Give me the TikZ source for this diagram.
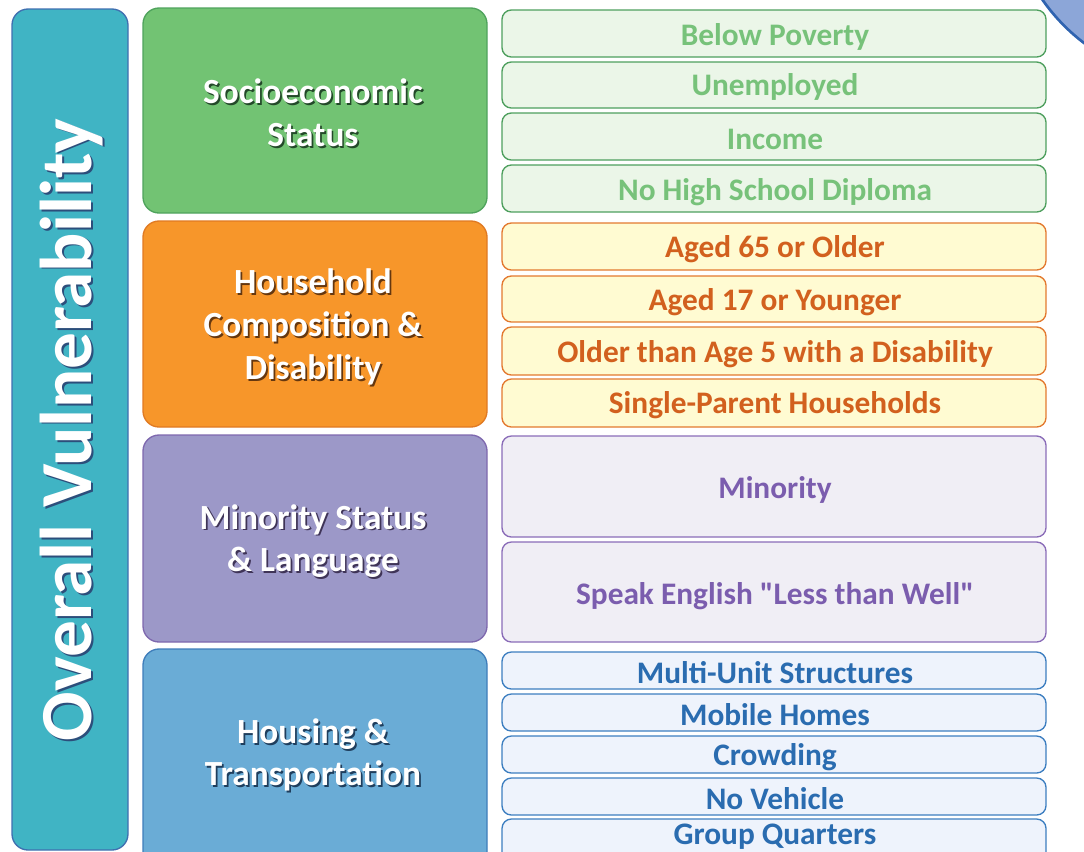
\documentclass[tikz,border=0pt]{standalone}
\usepackage{fontspec}
\setmainfont{Carlito}
\newcommand\dq{\XeTeXglyph\XeTeXcharglyph"22\relax}
\definecolor{tealF}{HTML}{40B4C4}
\definecolor{tealD}{HTML}{3F6FB0}
\definecolor{grnF}{HTML}{72C373}
\definecolor{grnD}{HTML}{4FA35C}
\definecolor{orgF}{HTML}{F7962A}
\definecolor{orgD}{HTML}{E07A22}
\definecolor{purF}{HTML}{9C98C8}
\definecolor{purD}{HTML}{7E68AE}
\definecolor{bluF}{HTML}{6AACD6}
\definecolor{bluD}{HTML}{3E7DBA}
\definecolor{gsF}{HTML}{EBF6E8}
\definecolor{gsD}{HTML}{4E9F5E}
\definecolor{gsT}{HTML}{77C27A}
\definecolor{osF}{HTML}{FFFBD2}
\definecolor{osD}{HTML}{E3792F}
\definecolor{osT}{HTML}{D2601E}
\definecolor{psF}{HTML}{F0EEF5}
\definecolor{psD}{HTML}{8A6CB8}
\definecolor{psT}{HTML}{7B5DAE}
\definecolor{bsF}{HTML}{EEF3FC}
\definecolor{bsD}{HTML}{3C7EC0}
\definecolor{bsT}{HTML}{2A6CB0}
\definecolor{circF}{HTML}{8CA6D8}
\definecolor{circD}{HTML}{2F63B0}
\newcommand\shtext[5]{%
  \node[#4, text=#3] (#1s) at ([xshift=1.3pt,yshift=-1.3pt]#2) {#5};
  \node[#4, text=white] (#1) at (#2) {#5};}
\begin{document}
\begin{tikzpicture}[x=0.75pt,y=-0.75pt,
  catbox/.style={draw, line width=1pt, rounded corners=12pt},
  subbox/.style={draw, line width=1pt, rounded corners=7pt},
  cattext/.style={font=\bfseries\fontsize{26.5}{32}\selectfont, align=center, inner sep=0pt},
  bigtext/.style={font=\bfseries\fontsize{55}{60}\selectfont, rotate=90, inner sep=0pt},
  subtext/.style={font=\bfseries\fontsize{23.5}{28}\selectfont, inner sep=0pt}]
\useasboundingbox (0,0) rectangle (1084,851);
\begin{scope}
\clip (0,0) rectangle (1084,851);
% corner circle
\draw[circD, fill=circF, line width=2pt] (1200,-110) circle[radius=144pt];
% category boxes
\draw[catbox, draw=tealD, fill=tealF] (12,9) rectangle (128,850);
\draw[catbox, draw=grnD, fill=grnF] (143,8) rectangle (487,213);
\draw[catbox, draw=orgD, fill=orgF] (143,221) rectangle (487,427);
\draw[catbox, draw=purD, fill=purF] (143,435) rectangle (487,642);
\draw[catbox, draw=bluD, fill=bluF] (143,649) rectangle (487,880);
% sub boxes
\foreach \a/\b in {10/57,62/108,113/160,165/212}
  \draw[subbox, draw=gsD, fill=gsF] (502,\a) rectangle (1046,\b);
\foreach \a/\b in {223/270,276/322,327/375,379/427}
  \draw[subbox, draw=osD, fill=osF] (502,\a) rectangle (1046,\b);
\foreach \a/\b in {436/537,542/642}
  \draw[subbox, draw=psD, fill=psF] (502,\a) rectangle (1046,\b);
\foreach \a/\b in {652/689,694/731,736/773,778/815,819/880}
  \draw[subbox, draw=bsD, fill=bsF] (502,\a) rectangle (1046,\b);
\end{scope}
% texts
\shtext{ov}{72,430}{tealD!70!black}{bigtext}{Overall Vulnerability}
\shtext{ses}{313,113}{grnD!45!black}{cattext}{Socioeconomic\\Status}
\shtext{hcd}{313,327}{orgD!45!black}{cattext}{Household\\Composition \&\\Disability}
\shtext{msl}{313,541}{purD!50!black}{cattext}{Minority Status\\\& Language}
\shtext{ht}{313,755}{bluD!50!black}{cattext}{Housing \&\\Transportation}
% sub texts
\node[subtext, text=gsT] (s1) at (775,37) {Below Poverty};
\node[subtext, text=gsT] (s2) at (775,87) {Unemployed};
\node[subtext, text=gsT] (s3) at (775,139) {Income};
\node[subtext, text=gsT] (s4) at (775,192) {No High School Diploma};
\node[subtext, text=osT] (h1) at (775,249) {Aged 65 or Older};
\node[subtext, text=osT] (h2) at (775,302) {Aged 17 or Younger};
\node[subtext, text=osT] (h3) at (775,354) {Older than Age 5 with a Disability};
\node[subtext, text=osT] (h4) at (775,405) {Single-Parent Households};
\node[subtext, text=psT] (m1) at (775,490) {Minority};
\node[subtext, text=psT] (m2) at (775,596) {Speak English \dq Less than Well\dq};
\node[subtext, text=bsT] (t1) at (775,673) {Multi-Unit Structures};
\node[subtext, text=bsT] (t2) at (775,715) {Mobile Homes};
\node[subtext, text=bsT] (t3) at (775,757) {Crowding};
\node[subtext, text=bsT] (t4) at (775,799) {No Vehicle};
\node[subtext, text=bsT] (t5) at (775,837) {Group Quarters};
\end{tikzpicture}
\end{document}
